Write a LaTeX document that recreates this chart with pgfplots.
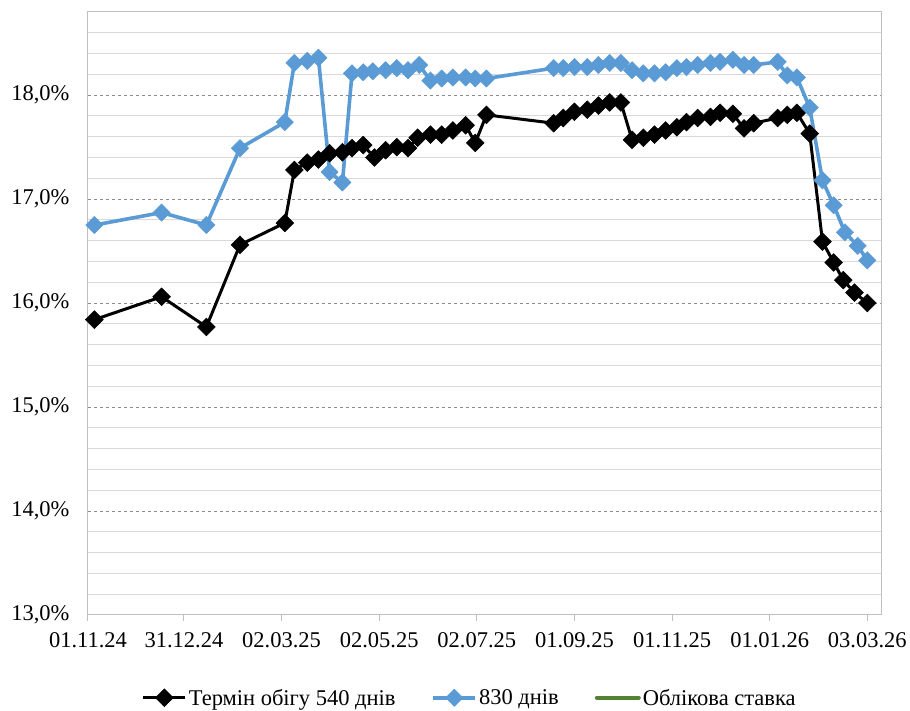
\documentclass[border=0pt]{standalone}
\usepackage{fontspec}
\setmainfont{Liberation Serif}
\usepackage{pgfplots}
\pgfplotsset{compat=1.18}
\definecolor{bondblue}{RGB}{91,155,213}
\definecolor{rategreen}{RGB}{84,130,53}
\definecolor{gridminor}{RGB}{217,217,217}
\definecolor{gridmajor}{RGB}{140,140,140}
\definecolor{axisgray}{RGB}{191,191,191}

% x = days since 01.11.24
\pgfplotstableread{
d    y
4    15.84
46   16.06
74   15.77
95   16.56
123  16.77
129  17.28
137  17.35
144  17.38
151  17.44
159  17.45
165  17.49
172  17.52
179  17.40
186  17.47
193  17.50
200  17.49
206  17.59
214  17.62
221  17.62
228  17.66
236  17.71
242  17.54
249  17.81
291  17.73
297  17.78
304  17.84
312  17.86
319  17.90
326  17.93
333  17.93
340  17.57
347  17.59
354  17.62
361  17.66
368  17.69
374  17.74
381  17.78
389  17.79
395  17.83
403  17.82
410  17.68
416  17.73
431  17.78
437  17.81
443  17.83
451  17.63
459  16.59
466  16.39
472  16.22
479  16.10
487  16.00
}\termsfive

\pgfplotstableread{
d    y
4    16.75
46   16.87
74   16.75
95   17.49
123  17.74
129  18.31
137  18.33
144  18.36
151  17.26
159  17.16
165  18.21
172  18.22
178  18.23
186  18.24
193  18.26
200  18.24
207  18.29
214  18.14
221  18.16
228  18.17
236  18.17
242  18.16
249  18.16
291  18.26
297  18.26
304  18.27
312  18.27
319  18.29
326  18.31
333  18.31
340  18.24
347  18.21
354  18.21
361  18.22
368  18.26
374  18.27
381  18.29
389  18.31
395  18.32
403  18.34
410  18.29
416  18.29
431  18.32
437  18.19
443  18.17
451  17.88
459  17.18
466  16.94
473  16.68
481  16.55
487  16.41
}\termeight

\begin{document}
\begin{tikzpicture}
\begin{axis}[
    scale only axis, width=794pt, height=603pt,
    xmin=0, xmax=496, ymin=13, ymax=18.8,
    axis line style={axisgray, line width=1pt},
    tick pos=left,
    xtick={0,60,121,182,243,304,365,426,487},
    xticklabels={01.11.24,31.12.24,02.03.25,02.05.25,02.07.25,01.09.25,01.11.25,01.01.26,03.03.26},
    xtick align=outside, major tick length=6pt,
    xtick style={axisgray, line width=1pt},
    ytick={13,14,15,16,17,18},
    minor ytick={13.2,13.4,13.6,13.8,14.2,14.4,14.6,14.8,15.2,15.4,15.6,15.8,16.2,16.4,16.6,16.8,17.2,17.4,17.6,17.8,18.2,18.4,18.6},
    ytick style={draw=none}, minor tick length=0pt,
    ymajorgrids, yminorgrids,
    major grid style={gridmajor, dashed, line width=0.6pt},
    minor grid style={gridminor, line width=1pt},
    /pgf/number format/assume math mode=true,
    yticklabel={\pgfmathprintnumber[fixed,fixed zerofill,precision=1,use comma]{\tick}\%},
    tick label style={font=\fontsize{22.5}{26}\selectfont},
    yticklabel style={xshift=-15pt},
    xticklabel style={yshift=-8pt},
    legend style={at={(0.481,-0.1376)}, anchor=center, draw=none, fill=none,
        legend columns=3, font=\fontsize{22.5}{26}\selectfont,
        cells={anchor=west, inner sep=1.5pt},
        /tikz/every even column/.append style={column sep=34pt}},
    legend image code/.code={\draw[mark repeat=2, mark phase=2] plot coordinates {(0pt,0pt) (21pt,0pt) (42pt,0pt)};},
]
\addplot[black, line width=3pt, mark=square*, mark size=6.3pt, mark options={rotate=45, solid, line width=0.5pt}]
    table[x=d, y=y] {\termsfive};
\addlegendentry{Термін обігу 540 днів}
\addplot[bondblue, line width=3.6pt, mark=square*, mark size=6.1pt, mark options={rotate=45, solid, line width=0.5pt}]
    table[x=d, y=y] {\termeight};
\addlegendentry{830 днів}
\addlegendimage{rategreen, line width=4pt, line cap=round}
\addlegendentry{Облікова ставка}
\draw[axisgray, line width=1pt] (rel axis cs:0,1) -- (rel axis cs:1,1) -- (rel axis cs:1,0);
\end{axis}
\path (current axis.south west) ++(-88pt,-96pt) rectangle ++(910pt,711pt);
\end{tikzpicture}
\end{document}
